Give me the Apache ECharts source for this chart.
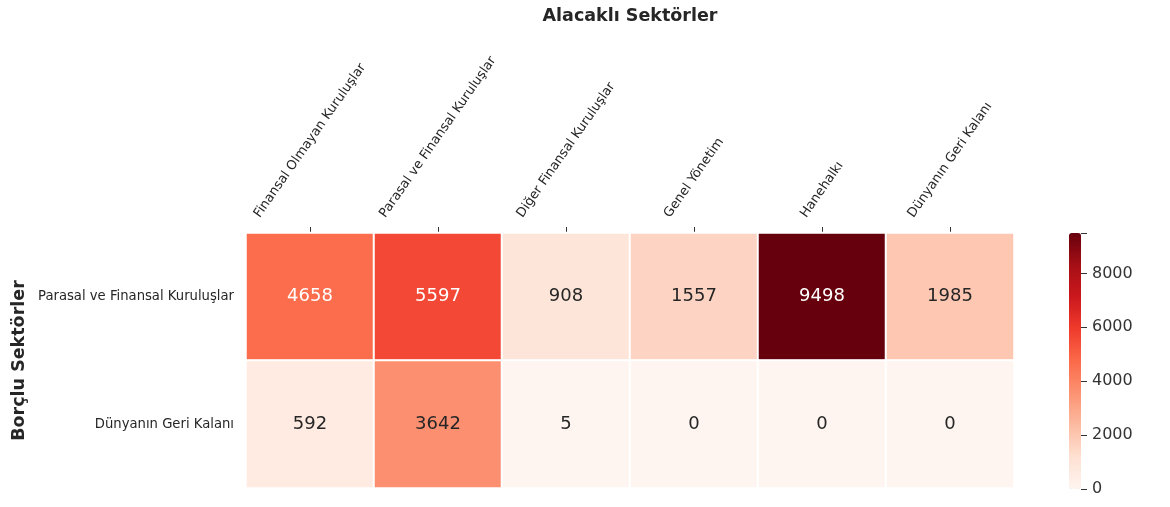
<!DOCTYPE html>
<html>
<head>
<meta charset="utf-8">
<script src="https://cdn.jsdelivr.net/npm/echarts@6/dist/echarts.min.js"></script>
<style>html,body{margin:0;padding:0;background:#fff}#c{width:1170px;height:507px}</style>
</head>
<body>
<div id="c"></div>
<script>
// ---- data ----
const creditorSectors = ['Finansal Olmayan Kuruluşlar','Parasal ve Finansal Kuruluşlar','Diğer Finansal Kuruluşlar','Genel Yönetim','Hanehalkı','Dünyanın Geri Kalanı'];
const debtorSectors = ['Parasal ve Finansal Kuruluşlar','Dünyanın Geri Kalanı'];
const rowParasal = [4658, 5597, 908, 1557, 9498, 1985];
const rowDunya = [592, 3642, 5, 0, 0, 0];
const colorbarTicks = [0, 2000, 4000, 6000, 8000];

const rows = [rowParasal, rowDunya];
const heatData = [];
rows.forEach((r, yi) => r.forEach((v, xi) => heatData.push([xi, yi, v])));
const vmax = Math.max(...rowParasal, ...rowDunya);

const FONT = 'DejaVu Sans';
const xFont = 13;
const ANG = 55;
const th = ANG * Math.PI / 180;
const ctx = document.createElement('canvas').getContext('2d');
ctx.font = xFont + 'px "' + FONT + '"';
// centre each rotated label horizontally on its tick, bottom at a fixed gap:
// shift along the text by padding, across it by a taller line box
const xData = creditorSectors.map(n => {
  const L = ctx.measureText(n).width;
  const q = L * Math.sin(th) * Math.cos(th);
  const p = L * Math.sin(th) * Math.sin(th);
  return { value: n, textStyle: { align: 'center', verticalAlign: 'middle', padding: [0, 0, 0, p],
    lineHeight: Math.max(q, xFont), fontFamily: FONT, fontSize: xFont, color: '#262626' } };
});

const chart = echarts.init(document.getElementById('c'));
chart.setOption({
  backgroundColor: '#ffffff',
  animation: false,
  title: {
    text: 'Alacaklı Sektörler', left: 625, textAlign: 'center', top: 2,
    textStyle: { fontFamily: FONT, fontSize: 17.5, fontWeight: 'bold', color: '#262626' }
  },
  grid: [
    { left: 246, right: 156, top: 233, bottom: 19, outerBoundsMode: 'none', containLabel: false },
    { left: 1069, width: 12, top: 233, height: 256, outerBoundsMode: 'none', containLabel: false }
  ],
  xAxis: [
    {
      type: 'category', position: 'top', data: xData, gridIndex: 0,
      axisLine: { show: false },
      axisTick: { show: true, alignWithLabel: true, length: 6, lineStyle: { color: '#333' } },
      splitLine: { show: false },
      axisLabel: {
        rotate: -ANG, interval: 0, margin: 13 + xFont / 2 * Math.cos(th),
        align: 'center', verticalAlign: 'middle', hideOverlap: false,
        fontFamily: FONT, fontSize: xFont, color: '#262626',
        formatter: v => v + '\n '
      }
    },
    { type: 'value', gridIndex: 1, show: false, min: 0, max: 1 }
  ],
  yAxis: [
    {
      type: 'category', data: debtorSectors, inverse: true, gridIndex: 0,
      axisLine: { show: false }, axisTick: { show: false }, splitLine: { show: false },
      axisLabel: { fontFamily: FONT, fontSize: 13.2, color: '#262626', margin: 12, padding: [5, 0, 0, 0] },
      name: 'Borçlu Sektörler', nameLocation: 'middle', nameGap: 218, nameRotate: 90, nameMoveOverlap: false,
      nameTextStyle: { fontFamily: FONT, fontSize: 17.5, fontWeight: 'bold', color: '#262626' }
    },
    {
      type: 'value', gridIndex: 1, position: 'right', min: 0, max: vmax, interval: 2000, z: 10,
      axisLine: { show: false, onZero: false }, splitLine: { show: false },
      axisTick: { show: true, inside: false, length: 6, lineStyle: { color: '#333', width: 1 } },
      axisLabel: {
        fontFamily: FONT, fontSize: 16, color: '#333', margin: 11,
        formatter: v => colorbarTicks.includes(v) ? String(v) : ''
      }
    }
  ],
  visualMap: {
    type: 'continuous', min: 0, max: vmax, calculable: false, seriesIndex: 0,
    orient: 'vertical', left: 1069, top: 233, itemWidth: 12, itemHeight: 256,
    padding: 0, text: null, showLabel: false,
    inRange: { color: ['#fff5f0','#fee0d2','#fcbba1','#fc9272','#fb6a4a','#ef3b2c','#cb181d','#a50f15','#67000d'] }
  },
  series: [{
    type: 'heatmap', xAxisIndex: 0, yAxisIndex: 0,
    data: heatData.map(d => ({ value: d, label: { color: d[2] / vmax > 0.45 ? '#ffffff' : '#262626' } })),
    itemStyle: { borderColor: '#ffffff', borderWidth: 2 },
    emphasis: { disabled: true },
    label: {
      show: true, fontFamily: FONT, fontSize: 18,
      formatter: p => String(p.value[2])
    }
  }]
});
</script>
</body>
</html>
